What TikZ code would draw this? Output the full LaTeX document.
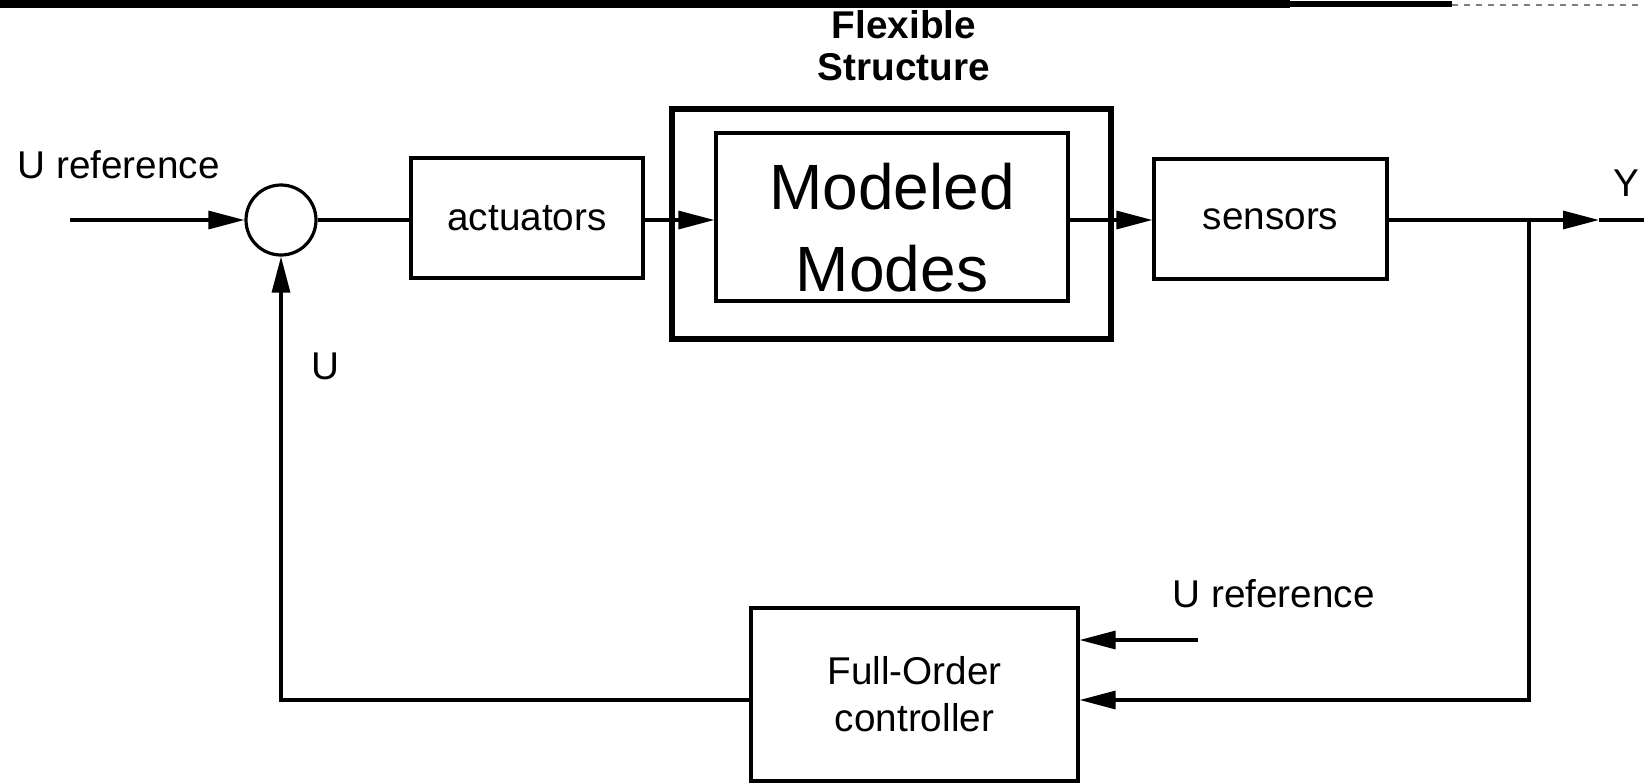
\documentclass[tikz,border=0pt]{standalone}
\usepackage{fontspec}
\setmainfont{Liberation Sans}
\usetikzlibrary{arrows.meta}
\begin{document}
\begin{tikzpicture}[x=0.5pt,y=-0.5pt,
  line width=1.6pt,
  box/.style={draw, line width=1.6pt, rectangle, inner sep=0pt},
  arr/.style={-{Triangle[length=18pt,width=9pt]}},
  txt/.style={font=\fontsize{19.35pt}{23.5pt}\selectfont},
  btxt/.style={font=\fontsize{19.35pt}{23.5pt}\selectfont\bfseries},
  lbl/.style={inner sep=0pt}]
\useasboundingbox (0,0) rectangle (1644,783);
\clip (0,0) rectangle (1644,783);

% scan bar at top
\fill (0,0) rectangle (1290,8);
\fill (1290,1) rectangle (1452,7);
\draw[line width=1pt, dashed, gray] (1452,5) -- (1644,5);

% title
\node[btxt, lbl, anchor=base] (flexlab) at (904,38) {Flexible};
\node[btxt, lbl, anchor=base] (structlab) at (904,80) {Structure};

% blocks
\node[circle, draw, line width=1.6pt, minimum size=35pt, inner sep=0pt] (sum) at (281,220) {};
\node[box, minimum width=116pt, minimum height=60pt, txt] (act) at (527,218) {actuators};
\node[box, line width=2.8pt, minimum width=219.5pt, minimum height=115pt] (flex) at (891.5,224) {};
\node[box, minimum width=176pt, minimum height=84pt] (modes) at (892,217) {};
\node[font=\fontsize{32pt}{41pt}\selectfont, align=center, lbl] (modestxt) at (892,227.6) {Modeled\\Modes};
\node[box, minimum width=116.5pt, minimum height=60pt, txt] (sens) at (1270.5,219) {sensors};
\node[box, minimum width=163.5pt, minimum height=86.5pt, txt, align=center] (ctrl) at (914.5,694.5) {Full-Order\\controller};

% labels
\node[txt, lbl, anchor=base west] (uref1) at (16,178) {U reference};
\node[txt, lbl, anchor=base west] (uref2) at (1171,607) {U reference};
\node[txt, lbl] (ulab) at (325,366) {U};
\node[txt, lbl, anchor=base west] (ylab) at (1612,196) {Y};

% coordinates
\coordinate (mainY) at (0,220);
\coordinate (fbY) at (0,700);
\coordinate (in) at (70,220);
\coordinate (ytip) at (1599,220);
\coordinate (out) at (1644,220);
\coordinate (br) at (1529,220);
\coordinate (urefstart) at (1198,640);

% connectors
\draw[arr] (in) -- (sum.west);
\draw (sum.east) -- (act.west |- mainY);
\draw[arr] (act.east |- mainY) -- (modes.west |- mainY);
\draw[arr] (modes.east |- mainY) -- (sens.west |- mainY);
\draw[arr] (sens.east |- mainY) -- (ytip);
\draw (ytip) -- (out);
\draw[arr] (br) -- (br |- fbY) -- (ctrl.east |- fbY);
\draw[arr] (urefstart) -- (ctrl.east |- urefstart);
\draw[arr] (ctrl.west |- fbY) -- (sum |- fbY) -- (sum.south);
\end{tikzpicture}
\end{document}
